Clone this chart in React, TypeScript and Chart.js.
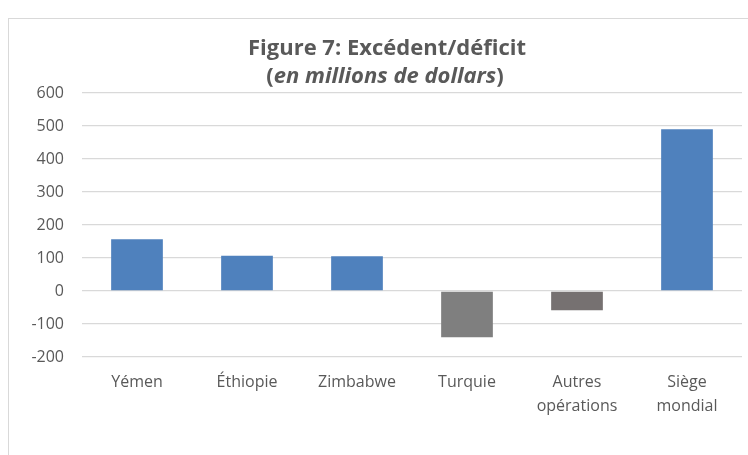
import React, { useEffect, useRef } from "react";
import { Chart, registerables } from "chart.js";

Chart.register(...registerables);

const categories: (string | string[])[] = [
  "Yémen",
  "Éthiopie",
  "Zimbabwe",
  "Turquie",
  ["Autres", "opérations"],
  ["Siège", "mondial"],
];
const values: number[] = [157, 107, 105, -140, -58, 490];
const barColors: string[] = ["#4F81BD", "#4F81BD", "#4F81BD", "#7F7F7F", "#767171", "#4F81BD"];
const titleLine1 = "Figure 7: Excédent/déficit";
const titleLine2Parts: { text: string; italic: boolean }[] = [
  { text: "(", italic: false },
  { text: "en millions de dollars", italic: true },
  { text: ")", italic: false },
];
const yMin = -200;
const yMax = 600;
const yStep = 100;

const FONT = "'Open Sans', 'DejaVu Sans', sans-serif";
const TEXT_COLOR = "#595959";
const GRID_COLOR = "#D9D9D9";

const titlePlugin = {
  id: "customTitle",
  afterDraw(chart: any) {
    const ctx = chart.ctx as CanvasRenderingContext2D;
    ctx.save();
    ctx.fillStyle = TEXT_COLOR;
    ctx.textBaseline = "alphabetic";
    ctx.textAlign = "left";
    ctx.font = `bold 22px ${FONT}`;
    const w1 = ctx.measureText(titleLine1).width;
    const cx = 387;
    ctx.fillText(titleLine1, cx - w1 / 2, 55);
    let total = 0;
    const widths = titleLine2Parts.map((p) => {
      ctx.font = `${p.italic ? "italic " : ""}bold 22px ${FONT}`;
      const w = ctx.measureText(p.text).width;
      total += w;
      return w;
    });
    let x = cx - 2 - total / 2;
    titleLine2Parts.forEach((p, i) => {
      ctx.font = `${p.italic ? "italic " : ""}bold 22px ${FONT}`;
      ctx.fillText(p.text, x, 83);
      x += widths[i];
    });
    ctx.restore();
  },
};

export default function App() {
  const ref = useRef<HTMLCanvasElement>(null);
  useEffect(() => {
    if (!ref.current) return;
    const chart = new Chart(ref.current, {
      type: "bar",
      data: {
        labels: categories,
        datasets: [
          {
            data: values,
            backgroundColor: barColors,
            borderWidth: 0,
            categoryPercentage: 1,
            barPercentage: 0.47,
          },
        ],
      },
      options: {
        responsive: false,
        animation: false,
        layout: { padding: { top: 93, right: 6, left: 0, bottom: 0 } },
        plugins: {
          legend: { display: false },
          title: { display: false },
          tooltip: { enabled: false },
        },
        scales: {
          x: {
            grid: { display: false, drawTicks: false },
            border: { display: false },
            ticks: {
              color: TEXT_COLOR,
              font: { family: FONT, size: 16, lineHeight: 1.5 },
              padding: 13,
              maxRotation: 0,
              autoSkip: false,
            },
            afterFit(scale: any) {
              scale.height = 98;
            },
          },
          y: {
            min: yMin,
            max: yMax,
            grid: { color: GRID_COLOR, lineWidth: 1.3, drawTicks: false },
            border: { display: false },
            ticks: {
              stepSize: yStep,
              color: TEXT_COLOR,
              font: { family: FONT, size: 16 },
              padding: 18,
            },
            afterFit(scale: any) {
              scale.width = 82;
            },
          },
        },
      },
      plugins: [titlePlugin],
    });
    return () => chart.destroy();
  }, []);

  return (
    <div
      style={{
        position: "absolute",
        left: 0,
        top: 0,
        width: 748,
        height: 455,
        overflow: "hidden",
        background: "#fff",
      }}
    >
      <div
        style={{
          position: "absolute",
          left: 8,
          top: 18,
          width: 800,
          height: 500,
          border: "1px solid #D9D9D9",
        }}
      />
      <canvas
        ref={ref}
        width={748}
        height={455}
        style={{ position: "absolute", left: 0, top: 0, width: 748, height: 455 }}
      />
    </div>
  );
}
